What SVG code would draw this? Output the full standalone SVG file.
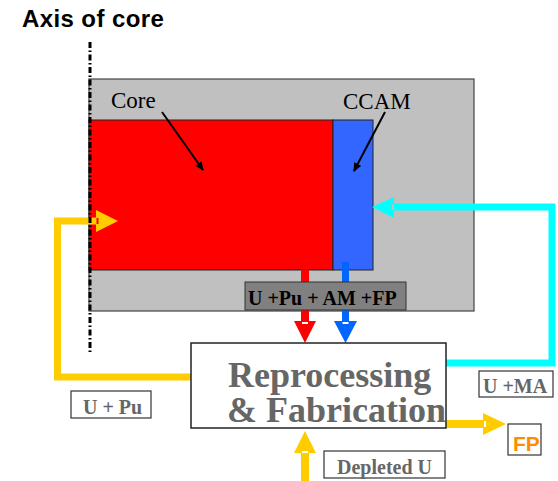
<svg xmlns="http://www.w3.org/2000/svg" width="558" height="481" viewBox="0 0 558 481">
<defs>
<style>
.lbl{font-family:"Liberation Serif","Times New Roman",serif;font-weight:bold;font-size:20px;fill:#666666}
.box{fill:#ffffff;stroke:#333333;stroke-width:1.2}
.tr{font-family:"Liberation Serif","Times New Roman",serif;font-size:23px;fill:#000000}
.big{font-family:"Liberation Serif","Times New Roman",serif;font-weight:bold;font-size:36px;fill:#666666}
</style>
<marker id="ah" markerWidth="10" markerHeight="10" refX="8" refY="4" orient="auto" markerUnits="userSpaceOnUse">
<path d="M0,0 L9,4 L0,8 Z" fill="#000"/>
</marker>
</defs>
<rect width="558" height="481" fill="#ffffff"/>
<text x="22" y="27" font-family="Liberation Sans,Arial,sans-serif" font-weight="bold" font-size="24" letter-spacing="0.4" fill="#000">Axis of core</text>

<g id="vessel">
<rect x="89" y="79" width="385" height="232" fill="#c0c0c0" stroke="#444" stroke-width="1.2"/>
</g>
<g id="core">
<rect x="89" y="120" width="244" height="150" fill="#ff0000" stroke="#222" stroke-width="1"/>
<text class="tr" x="111" y="108">Core</text>
</g>
<g id="ccam">
<rect x="333" y="120" width="40" height="150" fill="#3366ff" stroke="#222" stroke-width="1"/>
<text class="tr" x="343" y="109">CCAM</text>
</g>

<g id="connectors">
<line x1="162" y1="112" x2="203" y2="170" stroke="#000" stroke-width="2" marker-end="url(#ah)"/>
<line x1="385" y1="112" x2="354" y2="171" stroke="#000" stroke-width="2" marker-end="url(#ah)"/>
<rect x="301" y="270" width="8" height="52" fill="#ff0000"/>
<polygon points="294,321 316,321 305,343" fill="#ff0000"/>
<rect x="302" y="322" width="6" height="2" fill="#fff"/>
<rect x="342" y="262" width="7" height="60" fill="#0066ff"/>
<polygon points="334,321 357,321 345.5,343" fill="#0066ff"/>
<rect x="342.5" y="322" width="6" height="2" fill="#fff"/>
<polyline points="191,377 57.5,377 57.5,221 98,221" fill="none" stroke="#ffcc00" stroke-width="7"/>
<polygon points="96,210 118,221 96,232" fill="#ffcc00"/>
<rect x="96.5" y="218" width="2" height="6" fill="#ff0000"/>
<polyline points="446,363 552,363 552,207 392,207" fill="none" stroke="#00ffff" stroke-width="7"/>
<polygon points="394,197 372,207 394,218" fill="#00ffff"/>
<rect x="392" y="204" width="2" height="6" fill="#c0c0c0"/>
<rect x="446" y="420" width="39" height="8" fill="#ffcc00"/>
<polygon points="483,413 506,424 483,435" fill="#ffcc00"/>
<rect x="484" y="421" width="2" height="6" fill="#fff"/>
<rect x="301" y="451" width="8" height="30" fill="#ffcc00"/>
<polygon points="294,453 316,453 305,431" fill="#ffcc00"/>
<rect x="302" y="451" width="6" height="2" fill="#fff"/>
<line x1="90" y1="42" x2="90" y2="353" stroke="#000" stroke-width="3" stroke-dasharray="6,2.5,1.5,2.5"/>
</g>

<g id="mix">
<rect x="245" y="282" width="161" height="28" fill="#808080" stroke="#333" stroke-width="1"/>
<text x="248" y="305" class="lbl" style="fill:#000">U +Pu + AM +FP</text>
</g>
<g id="reprocessing">
<rect x="191" y="343" width="255" height="85" fill="#fff" stroke="#222" stroke-width="1.5"/>
<text class="big" x="228" y="387">Reprocessing</text>
<text class="big" x="227" y="422">&amp; Fabrication</text>
</g>
<g id="upu">
<rect class="box" x="71" y="391" width="80" height="27"/>
<text class="lbl" x="83" y="414">U + Pu</text>
</g>
<g id="uma">
<rect class="box" x="479" y="371" width="74" height="26"/>
<text class="lbl" x="483" y="393">U +MA</text>
</g>
<g id="fp">
<rect class="box" x="508" y="424" width="33" height="31"/>
<text x="513" y="451" font-family="Liberation Sans,Arial,sans-serif" font-weight="bold" font-size="21" fill="#ff8c00">FP</text>
</g>
<g id="depleted">
<rect class="box" x="324" y="451" width="121" height="27"/>
<text class="lbl" x="337" y="474">Depleted U</text>
</g>
</svg>
